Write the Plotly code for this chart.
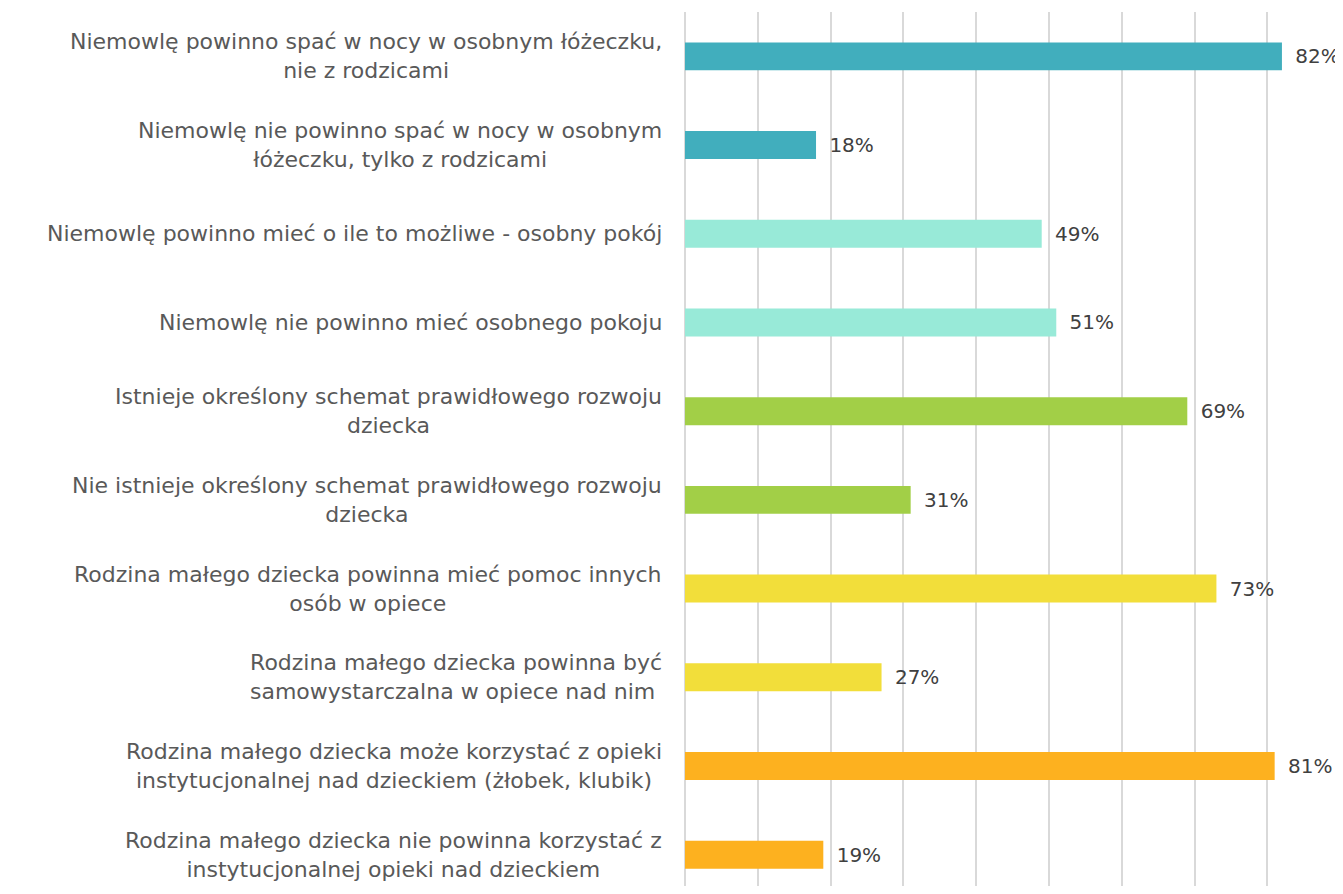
import plotly.graph_objects as go

categories = [
    "Niemowlę powinno spać w nocy w osobnym łóżeczku,<br>nie z rodzicami",
    "Niemowlę nie powinno spać w nocy w osobnym<br>łóżeczku, tylko z rodzicami",
    "Niemowlę powinno mieć o ile to możliwe - osobny pokój",
    "Niemowlę nie powinno mieć osobnego pokoju",
    "Istnieje określony schemat prawidłowego rozwoju<br>dziecka",
    "Nie istnieje określony schemat prawidłowego rozwoju<br>dziecka",
    "Rodzina małego dziecka powinna mieć pomoc innych<br>osób w opiece",
    "Rodzina małego dziecka powinna być<br>samowystarczalna w opiece nad nim ",
    "Rodzina małego dziecka może korzystać z opieki<br>instytucjonalnej nad dzieckiem (żłobek, klubik)",
    "Rodzina małego dziecka nie powinna korzystać z<br>instytucjonalnej opieki nad dzieckiem",
]
values = [82, 18, 49, 51, 69, 31, 73, 27, 81, 19]
colors = [
    "#41AEBD", "#41AEBD",
    "#98EAD8", "#98EAD8",
    "#A2CF47", "#A2CF47",
    "#F2DE3A", "#F2DE3A",
    "#FDB11F", "#FDB11F",
]
value_labels = ["\u00a0\u2009" + f"{v}%" for v in values]

FONT = "DejaVu Sans"
GRID = "#D9D9D9"

fig = go.Figure(
    go.Bar(
        x=values,
        y=categories,
        orientation="h",
        marker=dict(color=colors, line=dict(width=0)),
        width=0.315,
        text=value_labels,
        textposition="outside",
        textfont=dict(family=FONT, size=20, color="#404040"),
        cliponaxis=False,
        constraintext="none",
        hoverinfo="skip",
    )
)

for cat in categories:
    fig.add_annotation(
        x=0, xref="paper", xshift=-20,
        y=cat, yref="y",
        text=cat, showarrow=False,
        xanchor="right", yanchor="middle", align="center",
        font=dict(family=FONT, size=22, color="#595959"),
    )

# the page body has an 8px default margin, so the figure is sized to fit
fig.update_layout(
    width=1335, height=878,
    margin=dict(l=676, r=1, t=4, b=0),
    paper_bgcolor="white", plot_bgcolor="white",
    showlegend=False,
    font=dict(family=FONT),
    xaxis=dict(
        range=[-0.137, 90.25], dtick=10, tick0=0,
        showgrid=True, gridcolor=GRID, gridwidth=1.5,
        zeroline=True, zerolinecolor=GRID, zerolinewidth=1.5,
        showticklabels=False, showline=False,
        fixedrange=True,
    ),
    yaxis=dict(
        type="category",
        categoryorder="array", categoryarray=categories,
        range=[9.353, -0.5],
        showticklabels=False, showgrid=False, zeroline=False, showline=False,
        fixedrange=True,
    ),
)

fig.write_html("out.html")
